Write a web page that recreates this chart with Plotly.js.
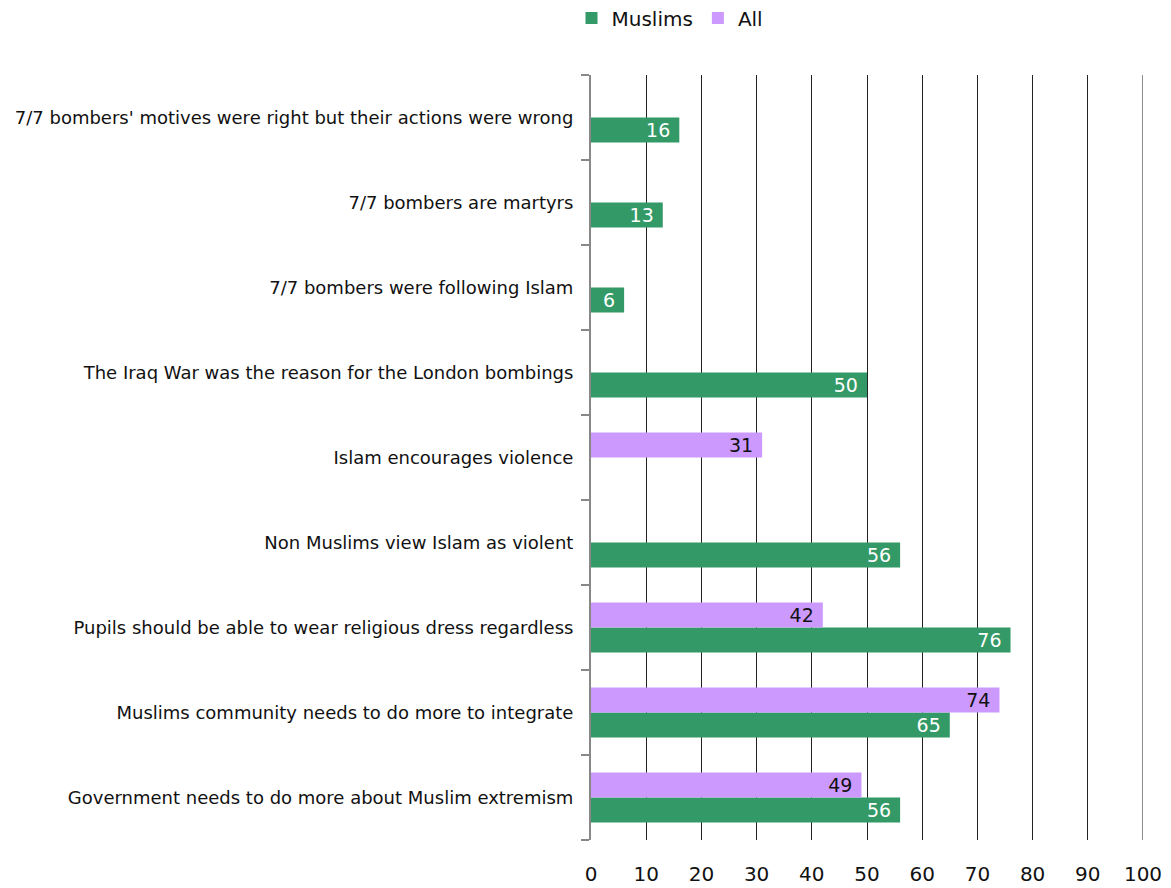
<!DOCTYPE html>
<html>
<head>
<meta charset="utf-8">
<script src="https://cdn.plot.ly/plotly-3.0.1.min.js"></script>
<style>html,body{margin:0;padding:0;background:#fff;}#chart{width:1171px;height:888px;}</style>
</head>
<body>
<div id="chart"></div>
<script>
// Categories listed top to bottom as in the picture
var categories = [
  "7/7 bombers' motives were right but their actions were wrong",
  "7/7 bombers are martyrs",
  "7/7 bombers were following Islam",
  "The Iraq War was the reason for the London bombings",
  "Islam encourages violence",
  "Non Muslims view Islam as violent",
  "Pupils should be able to wear religious dress regardless",
  "Muslims community needs to do more to integrate",
  "Government needs to do more about Muslim extremism"
];
var muslims = [16, 13, 6, 50, null, 56, 76, 65, 56];
var all = [null, null, null, null, 31, null, 42, 74, 49];
var xTicks = [0, 10, 20, 30, 40, 50, 60, 70, 80, 90, 100];

// Plotly draws the first category at the bottom; reverse so the first is on top
var cats = categories.slice().reverse();
var mus = muslims.slice().reverse();
var al = all.slice().reverse();

var font = "DejaVu Sans, Verdana, sans-serif";
function lbl(v){ return v === null ? '' : String(v) + '\u00a0'; }

var traces = [
  {
    type: 'bar', orientation: 'h', name: 'Muslims',
    y: cats, x: mus,
    marker: {color: '#339966'},
    text: mus.map(lbl),
    textposition: 'inside', insidetextanchor: 'end', constraintext: 'none', textangle: 0,
    textfont: {color: '#ffffff', size: 19, family: font},
    hoverinfo: 'x+y'
  },
  {
    type: 'bar', orientation: 'h', name: 'All',
    y: cats, x: al,
    marker: {color: '#cc99ff'},
    text: al.map(lbl),
    textposition: 'inside', insidetextanchor: 'end', constraintext: 'none', textangle: 0,
    textfont: {color: '#111111', size: 19, family: font},
    hoverinfo: 'x+y'
  }
];

var layout = {
  width: 1171, height: 888,
  margin: {l: 591, r: 28, t: 75, b: 48, autoexpand: false},
  paper_bgcolor: '#ffffff', plot_bgcolor: '#ffffff',
  barmode: 'group', bargap: 0.41, bargroupgap: 0,
  font: {family: font, color: '#111111', size: 16},
  showlegend: true,
  legend: {
    orientation: 'h', xref: 'container', x: 670 / 1171, xanchor: 'center',
    yref: 'container', y: 1 - 18 / 888, yanchor: 'middle',
    font: {size: 20, family: font, color: '#111111'},
    traceorder: 'normal'
  },
  xaxis: {
    range: [0, 100], tickvals: xTicks, ticktext: xTicks.map(String),
    showgrid: true, gridcolor: '#222222', gridwidth: 1,
    zeroline: false, showline: false, ticks: '',
    ticklabelstandoff: 20, automargin: false,
    tickfont: {size: 20, family: font, color: '#111111'},
    fixedrange: true
  },
  yaxis: {
    type: 'category', categoryorder: 'array', categoryarray: cats,
    showgrid: false, zeroline: false,
    showline: true, linecolor: '#888888', linewidth: 2,
    ticks: 'outside', tickson: 'boundaries', ticklen: 8, tickcolor: '#888888', tickwidth: 2,
    ticklabelstandoff: 12, automargin: false,
    tickfont: {size: 18, family: font, color: '#111111'},
    fixedrange: true
  },
  shapes: [{
    type: 'line', xref: 'x', yref: 'paper', x0: xTicks[xTicks.length - 1], x1: xTicks[xTicks.length - 1], y0: 0, y1: 1,
    line: {color: '#666666', width: 1.5}, layer: 'below'
  }]
};

Plotly.newPlot('chart', traces, layout, {displayModeBar: false, staticPlot: true});
</script>
</body>
</html>
